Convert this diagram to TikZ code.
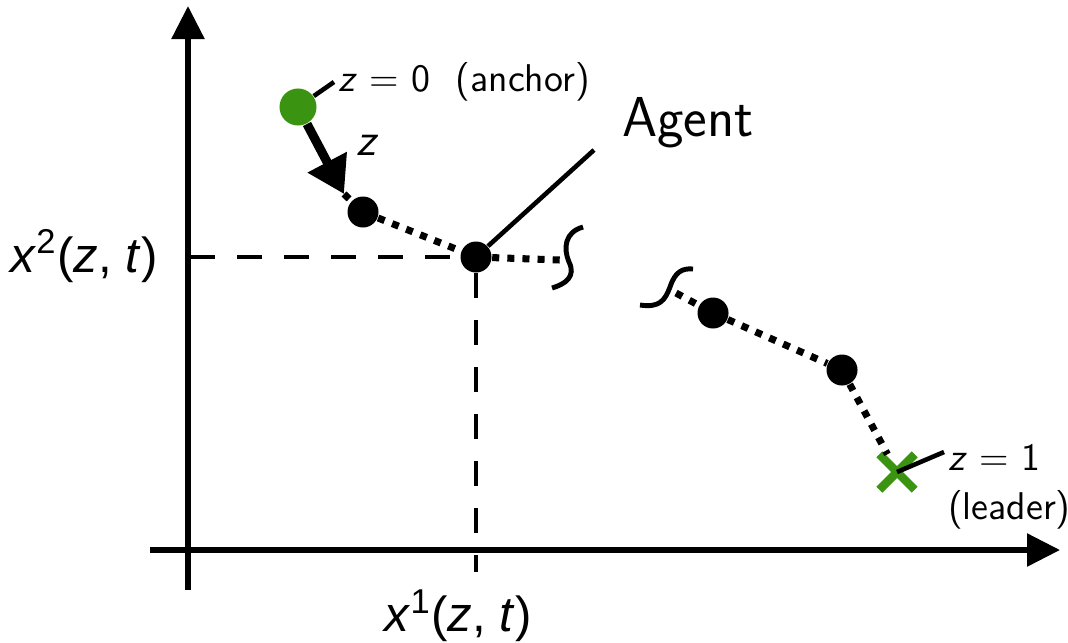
\documentclass[tikz,border=0pt]{standalone}
\usepackage{fontspec}
\newfontfamily\axisfont{Liberation Sans}
\usetikzlibrary{positioning,arrows.meta,shapes.misc}
\definecolor{leadgreen}{RGB}{58,148,18}

\begin{document}
\begin{tikzpicture}[x=0.01cm,y=-0.01cm,font=\sffamily,>=Triangle,
  dot/.style={circle,fill=black,inner sep=0pt,minimum size=0.31cm},
  chain/.style={line width=2pt,dash pattern=on 2pt off 2.3pt},
  guide/.style={line width=1.4pt,dash pattern=on 0.25cm off 0.22cm},
  axis/.style={line width=1.6pt,-{Triangle[length=0.33cm,width=0.32cm]}},
  tag/.style={line width=1.3pt},
  lbl/.style={font=\sffamily\fontsize{11}{14}\selectfont,inner sep=1pt}]
  \useasboundingbox (0,0) rectangle (1068,642);
  % axes
  \coordinate (ybot) at (188,590);
  \coordinate (ytop) at (188,6);
  \coordinate (xleft) at (150,550);
  \coordinate (xright) at (1060,550);
  \draw[axis] (ybot) -- (ytop);
  \draw[axis] (xleft) -- (xright);
  % points along z
  \node[circle,fill=leadgreen,inner sep=0pt,minimum size=0.37cm] (anchor) at (298,107) {};
  \foreach \n/\p in {d1/{363,212},agent/{476,257},d2/{713,313},d3/{842,370}}
    \node[dot] (\n) at (\p) {};
  \node[cross out,draw=leadgreen,line width=2.4pt,minimum size=0.27cm,inner sep=0pt] (leader) at (897,472) {};
  \coordinate (ztip) at (344,194);
  \coordinate (cut1) at (560,260);
  \coordinate (cut2) at (676,293);
  \coordinate (agend) at (594,150);
  % projections of the agent
  \draw[guide] (190,257) -- (agent);
  \draw[guide] (agent) -- (476,572);
  % chain (broken in the middle)
  \draw[line width=2.6pt,-{Triangle[length=0.36cm,width=0.42cm]}] (anchor) -- (ztip);
  \draw[chain] (ztip) -- (d1) -- (agent) -- (cut1);
  \draw[chain] (cut2) -- (d2) -- (d3) -- (leader);
  \draw[line width=1.4pt] (583,227) .. controls (565,232) and (563,248) .. (569,262) .. controls (576,276) and (566,284) .. (552,288);
  \draw[line width=1.4pt] (640,305) .. controls (660,308) and (665,300) .. (670,287) .. controls (675,272) and (682,268) .. (693,269);
  % labels
  \node[lbl,anchor=west] (zlab0) at (334,82) {\textit{z} = 0\ \ (anchor)};
  \draw[tag] (anchor) -- (zlab0.west);
  \node[lbl,font=\sffamily\fontsize{13}{14}\selectfont] (zlab) at (368,145) {\textit{z}};
  \node[lbl,anchor=north west,align=left] (zlab1) at (944,440) {\textit{z} = 1\\(leader)};
  \draw[tag] (leader.center) -- ([yshift=-0.12cm]zlab1.north west);
  \node[font=\sffamily\fontsize{16}{18}\selectfont] (agtext) at (688,123) {Agent};
  \draw[tag] (agent) -- (agend);
  \node[font=\axisfont\fontsize{14}{16}\selectfont] (xtwo) at (84,256) {\textit{x}\textsuperscript{2}(\textit{z}, \textit{t})};
  \node[font=\axisfont\fontsize{14}{16}\selectfont] (xone) at (458,616) {\textit{x}\textsuperscript{1}(\textit{z}, \textit{t})};
\end{tikzpicture}
\end{document}
